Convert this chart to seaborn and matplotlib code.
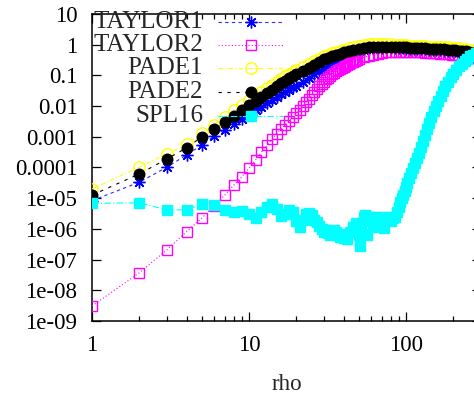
import numpy as np
import pandas as pd
import matplotlib
matplotlib.use("Agg")
import matplotlib.pyplot as plt
import seaborn as sns
from matplotlib.lines import Line2D
from matplotlib.ticker import FixedLocator, NullLocator, FixedFormatter, NullFormatter

# ---------------- data (values as log10 of the plotted quantity) ----------------
rho = [1, 2, 3, 4, 5, 6, 7, 8, 9, 10, 11, 12, 13, 14, 15, 16, 17, 18, 19, 20,
       22, 24, 26, 28, 30, 32, 34, 36, 38, 40, 43, 46, 50, 54, 58, 62, 66, 70,
       75, 80, 85, 90, 95, 100, 106, 112, 118, 125, 132, 140, 148, 156, 165,
       175, 185, 195, 205, 216, 228, 240, 253, 266, 280, 300]

taylor1_log = [-5.08, -4.48, -3.99, -3.59, -3.27, -2.98, -2.77, -2.58, -2.42, -2.28,
               -2.14, -2.02, -1.91, -1.80, -1.70, -1.61, -1.53, -1.46, -1.39, -1.33,
               -1.20, -1.08, -0.97, -0.87, -0.78, -0.69, -0.61, -0.54, -0.47, -0.41,
               -0.34, -0.28, -0.22, -0.18, -0.15, -0.13, -0.12, -0.11, -0.11, -0.11,
               -0.11, -0.12, -0.12, -0.13, -0.13, -0.14, -0.14, -0.15, -0.15, -0.16,
               -0.17, -0.17, -0.18, -0.19, -0.20, -0.21, -0.22, -0.23, -0.24, -0.26,
               -0.27, -0.29, -0.31, -0.34]

rho_taylor2 = [1, 2, 3, 4, 5, 6, 7, 8, 9, 10, 11, 12, 13, 14, 15, 16, 17, 18, 19, 20,
               21, 22, 23, 24, 25, 26, 27, 28, 29, 30, 31, 32, 33, 34, 35, 36, 37, 38,
               39, 40, 41, 42, 43, 44, 45, 46, 47, 48, 49, 50, 54, 58, 62, 66, 70, 75,
               80, 85, 90, 95, 100, 106, 112, 118, 125, 132, 140, 148, 156, 165, 175,
               185, 195, 205, 216, 228, 240, 253, 266, 280, 300]

taylor2_log = [-8.51, -7.43, -6.68, -6.09, -5.65, -5.24, -4.90, -4.57, -4.30, -4.02,
               -3.76, -3.50, -3.28, -3.08, -2.90, -2.74, -2.60, -2.48, -2.36, -2.24,
               -2.12, -2.00, -1.88, -1.76, -1.65, -1.54, -1.45, -1.36, -1.28, -1.20,
               -1.13, -1.07, -1.01, -0.96, -0.91, -0.87, -0.83, -0.79, -0.75, -0.72,
               -0.69, -0.66, -0.63, -0.60, -0.57, -0.55, -0.53, -0.51, -0.49, -0.47,
               -0.41, -0.36, -0.32, -0.29, -0.27, -0.25, -0.24, -0.23, -0.23, -0.23,
               -0.23, -0.24, -0.24, -0.25, -0.25, -0.26, -0.27, -0.28, -0.28, -0.29,
               -0.30, -0.31, -0.32, -0.34, -0.35, -0.36, -0.38, -0.40, -0.42, -0.44,
               -0.47]

pade1_log = [-4.70, -3.99, -3.56, -3.25, -2.88, -2.60, -2.36, -2.14, -1.95, -1.80,
             -1.66, -1.54, -1.42, -1.30, -1.20, -1.11, -1.03, -0.96, -0.89, -0.83,
             -0.74, -0.63, -0.53, -0.45, -0.38, -0.32, -0.28, -0.24, -0.20, -0.16,
             -0.12, -0.08, -0.04, -0.01, 0.01, 0.02, 0.03, 0.03, 0.02, 0.01,
             0.00, -0.01, -0.01, -0.02, -0.03, -0.03, -0.04, -0.04, -0.05, -0.06,
             -0.06, -0.07, -0.08, -0.08, -0.09, -0.10, -0.11, -0.12, -0.14, -0.15,
             -0.17, -0.19, -0.21, -0.24]

pade2_log = [-4.90, -4.21, -3.72, -3.36, -3.00, -2.74, -2.52, -2.32, -2.13, -1.97,
             -1.83, -1.70, -1.58, -1.46, -1.35, -1.26, -1.17, -1.09, -1.02, -0.96,
             -0.86, -0.75, -0.65, -0.56, -0.48, -0.42, -0.37, -0.33, -0.29, -0.25,
             -0.21, -0.17, -0.13, -0.10, -0.08, -0.07, -0.06, -0.06, -0.06, -0.07,
             -0.07, -0.08, -0.08, -0.09, -0.10, -0.10, -0.11, -0.11, -0.12, -0.13,
             -0.13, -0.14, -0.15, -0.15, -0.16, -0.17, -0.18, -0.19, -0.21, -0.22,
             -0.24, -0.26, -0.28, -0.31]

rho_spl16 = [1, 2, 3, 4, 5, 6, 7, 8, 9, 10, 11, 12, 13, 14, 15, 16, 17, 18, 19, 20,
             21, 22, 23, 24, 25, 26, 27, 28, 29, 30, 31, 32, 33, 34, 35, 36, 37, 38,
             39, 40, 42, 44, 46, 48, 50, 51, 52, 54, 55, 56, 58, 60, 62, 64, 66, 68,
             70, 72, 75, 78, 80, 82, 85, 88, 90, 92, 94, 96, 98, 100, 102, 105, 108,
             111, 114, 117, 120, 124, 128, 132, 136, 140, 145, 150, 155, 160, 166,
             172, 178, 185, 192, 200, 208, 217, 226, 236, 246, 257, 268, 280, 300]

spl16_log = [-5.17, -5.15, -5.38, -5.38, -5.20, -5.22, -5.38, -5.44, -5.42, -5.50,
             -5.65, -5.45, -5.30, -5.20, -5.35, -5.58, -5.50, -5.38, -5.45, -5.75,
             -5.93, -5.70, -5.50, -5.48, -5.55, -5.70, -5.78, -5.90, -6.00, -6.10,
             -6.05, -6.14, -6.20, -6.15, -6.05, -6.10, -6.20, -6.25, -6.18, -6.30,
             -6.32, -6.10, -5.95, -5.82, -6.20, -6.55, -5.90, -5.60, -5.55, -6.20,
             -5.70, -5.60, -5.95, -5.60, -5.90, -5.65, -5.60, -5.97, -5.70, -5.60,
             -5.75, -5.65, -5.60, -5.45, -5.30, -5.12, -5.00, -4.88, -4.75, -4.62,
             -4.51, -4.35, -4.17, -4.01, -3.85, -3.69, -3.54, -3.34, -3.13, -2.93,
             -2.74, -2.55, -2.36, -2.17, -2.00, -1.85, -1.68, -1.52, -1.36, -1.20,
             -1.06, -0.94, -0.82, -0.71, -0.62, -0.52, -0.45, -0.38, -0.32, -0.27,
             -0.20]

labels = ["TAYLOR1", "TAYLOR2", "PADE1", "PADE2", "SPL16"]
ytick_exp = [-9, -8, -7, -6, -5, -4, -3, -2, -1, 0, 1]
ytick_labels = ["1e-09", "1e-08", "1e-07", "1e-06", "1e-05", "0.0001",
                "0.001", "0.01", "0.1", "1", "10"]
xtick_vals = [1, 10, 100]
xtick_labels = ["1", "10", "100"]

# ---------------- style ----------------
sns.set_style("ticks")
plt.rcParams['font.family'] = ['Liberation Serif', 'DejaVu Serif']
FS = 16.5
FS_KEY = 18

W, H = 474, 396
fig = plt.figure(figsize=(W / 100, H / 100), dpi=100)
ax = fig.add_axes([92 / W, 1 - 321 / H, (481 - 92) / W, (321 - 14) / H])

styles = [
    dict(color="#2a2aff", marker=(8, 2, 0), markersize=8.5, mfc="#0000ff", mec="#0000ff",
         mew=1.0, linestyle=(0, (3, 3)), linewidth=0.8),
    dict(color="#ff00ff", marker="s", markersize=6.8, mfc="none", mec="#ff00ff",
         mew=1.0, linestyle=(0, (1, 2)), linewidth=0.8),
    dict(color="#ffff00", marker="o", markersize=8.2, mfc="none", mec="#ffff00",
         mew=1.0, linestyle=(0, (4, 2, 1, 2)), linewidth=0.8),
    dict(color="#000000", marker="o", markersize=7.6, mfc="#000000", mec="#000000",
         mew=1.0, linestyle=(0, (3, 5)), linewidth=0.8),
    dict(color="#00ffff", marker="s", markersize=7.4, mfc="#00ffff", mec="#00ffff",
         mew=1.0, linestyle=(0, (6, 2, 1, 2)), linewidth=0.8),
]

series = [
    (rho, taylor1_log),
    (rho_taylor2, taylor2_log),
    (rho, pade1_log),
    (rho, pade2_log),
    (rho_spl16, spl16_log),
]

for i, ((xs, ylog), lab, st) in enumerate(zip(series, labels, styles)):
    df = pd.DataFrame({"rho": xs, "val": np.power(10.0, ylog)})
    sns.lineplot(data=df, x="rho", y="val", ax=ax, estimator=None, sort=False,
                 legend=False, zorder=3 + i, **st)

ax.set_xscale("log")
ax.set_yscale("log")
ax.set_xlim(1, 300)
ax.set_ylim(1e-9, 10)

ax.yaxis.set_major_locator(FixedLocator([10.0 ** e for e in ytick_exp]))
ax.yaxis.set_major_formatter(FixedFormatter(ytick_labels))
ax.yaxis.set_minor_locator(NullLocator())
ax.xaxis.set_major_locator(FixedLocator(xtick_vals))
ax.xaxis.set_major_formatter(FixedFormatter(xtick_labels))
minor_x = [m * 10 ** d for d in range(0, 3) for m in range(2, 10)]
ax.xaxis.set_minor_locator(FixedLocator(minor_x))
ax.xaxis.set_minor_formatter(NullFormatter())

ax.tick_params(which="both", direction="in", top=True, right=True, colors="black",
               labelsize=FS, width=0.9)
ax.tick_params(which="major", length=6.5)
ax.tick_params(which="minor", length=3.5)
ax.tick_params(axis="y", which="major", pad=10.5)
ax.tick_params(axis="x", which="major", pad=10)
for sp in ax.spines.values():
    sp.set_color("black")
    sp.set_linewidth(1.1)
ax.set_xlabel("rho", fontsize=FS, labelpad=13)
ax.set_ylabel("")
ax.grid(False)

# ---------------- gnuplot-style key ----------------
row_y = [22, 45, 68, 92, 116]
for lab, st, yy in zip(labels, styles, row_y):
    yf = 1 - yy / H
    fig.text(203 / W, yf, lab, ha="right", va="center", fontsize=FS_KEY, zorder=20)
    ln = Line2D([218 / W, 283 / W], [yf, yf], transform=fig.transFigure,
                color=st["color"], linestyle=st["linestyle"], linewidth=st["linewidth"],
                zorder=20)
    fig.add_artist(ln)
    mk = Line2D([251 / W], [yf], transform=fig.transFigure, linestyle="none",
                marker=st["marker"], markersize=st["markersize"], mfc=st["mfc"],
                mec=st["mec"], mew=st["mew"], zorder=21)
    fig.add_artist(mk)

fig.savefig("out.png", dpi=100)
